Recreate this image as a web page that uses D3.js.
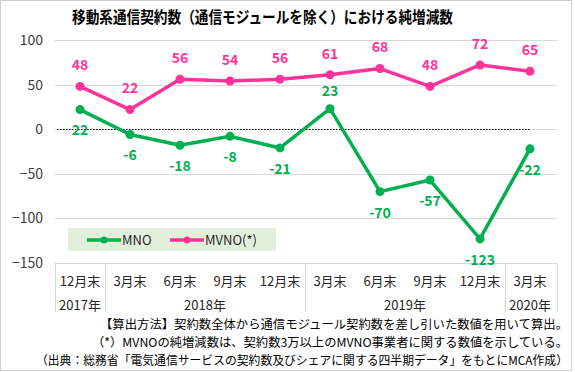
<!DOCTYPE html>
<html>
<head>
<meta charset="utf-8">
<script src="https://cdn.jsdelivr.net/npm/d3@7"></script>
<style>
  body { margin: 0; background: #fff; }
  text { font-family: "Noto Sans CJK JP", sans-serif; }
</style>
</head>
<body>
<svg id="chart" width="575" height="372"></svg>
<script>
// data
const months = ["12月末", "3月末", "6月末", "9月末", "12月末", "3月末", "6月末", "9月末", "12月末", "3月末"];
const years = [
  { label: "2017年", from: 0, to: 0 },
  { label: "2018年", from: 1, to: 4 },
  { label: "2019年", from: 5, to: 8 },
  { label: "2020年", from: 9, to: 9 }
];
const mno = [22, -6, -18, -8, -21, 23, -70, -57, -123, -22];
const mvno = [48, 22, 56, 54, 56, 61, 68, 48, 72, 65];
const yTicks = [100, 50, 0, -50, -100, -150];
const title = "移動系通信契約数（通信モジュールを除く）における純増減数";
const notes = [
  "【算出方法】契約数全体から通信モジュール契約数を差し引いた数値を用いて算出。",
  "（*）MVNOの純増減数は、契約数3万以上のMVNO事業者に関する数値を示している。",
  "（出典：総務省「電気通信サービスの契約数及びシェアに関する四半期データ」をもとにMCA作成）"
];
const noteWidths = [468, 476, 532];

const GREEN = "#00b050", PINK = "#ff3399";
const svg = d3.select("#chart");

svg.append("rect")
  .attr("x", 0.5).attr("y", 0.5)
  .attr("width", 571).attr("height", 370)
  .attr("fill", "#fff").attr("stroke", "#d0d0d0");

svg.append("text")
  .attr("x", 72).attr("y", 23)
  .attr("font-size", 16).attr("font-weight", "bold")
  .attr("fill", "#000")
  .attr("textLength", 381).attr("lengthAdjust", "spacingAndGlyphs")
  .text(title);

const x = d3.scaleBand().domain(d3.range(months.length)).range([55, 555]);
const y = d3.scaleLinear().domain([-150, 100]).range([263, 40]);
const cx = i => x(i) + x.bandwidth() / 2;

// grid + y labels
svg.append("g")
  .selectAll("line")
  .data(yTicks)
  .join("line")
  .attr("x1", 55).attr("x2", 557)
  .attr("y1", d => Math.round(y(d)) + 0.5).attr("y2", d => Math.round(y(d)) + 0.5)
  .attr("stroke", "#d9d9d9");

svg.append("g")
  .selectAll("text")
  .data(yTicks)
  .join("text")
  .attr("x", 43).attr("y", d => y(d))
  .attr("dy", "0.35em")
  .attr("text-anchor", "end")
  .attr("font-size", 14)
  .attr("fill", "#404040")
  .text(d => d < 0 ? "\u2212" + Math.abs(d) : d);

// dotted zero line
svg.append("line")
  .attr("x1", 57).attr("x2", cx(9))
  .attr("y1", Math.round(y(0)) + 0.5).attr("y2", Math.round(y(0)) + 0.5)
  .attr("stroke", "#000").attr("stroke-width", 1.2)
  .attr("stroke-dasharray", "1.5,1.5");

// category table
const tableTop = Math.round(y(-150)) + 0.5, tableBottom = 312;
const bounds = [0].concat(years.map(d => d.to + 1));
svg.append("g")
  .selectAll("line")
  .data(bounds)
  .join("line")
  .attr("x1", d => (d === months.length ? 557 : x(d)) + 0.5)
  .attr("x2", d => (d === months.length ? 557 : x(d)) + 0.5)
  .attr("y1", tableTop).attr("y2", tableBottom)
  .attr("stroke", "#d9d9d9");

svg.append("g")
  .selectAll("text")
  .data(months)
  .join("text")
  .attr("x", (d, i) => cx(i)).attr("y", 281)
  .attr("dy", "0.35em")
  .attr("text-anchor", "middle")
  .attr("font-size", 13)
  .attr("fill", "#262626")
  .text(d => d);

svg.append("g")
  .selectAll("text")
  .data(years)
  .join("text")
  .attr("x", d => (x(d.from) + x(d.to) + x.bandwidth()) / 2).attr("y", 305)
  .attr("dy", "0.35em")
  .attr("text-anchor", "middle")
  .attr("font-size", 13)
  .attr("fill", "#262626")
  .text(d => d.label);

// series
const line = d3.line().x((d, i) => cx(i)).y(d => y(d));
const series = [
  { name: "MNO", values: mno, color: GREEN },
  { name: "MVNO(*)", values: mvno, color: PINK }
];
series.forEach(s => {
  svg.append("path")
    .attr("d", line(s.values))
    .attr("fill", "none")
    .attr("stroke", s.color)
    .attr("stroke-width", 3.5)
    .attr("stroke-linejoin", "round");
  svg.append("g")
    .selectAll("circle")
    .data(s.values)
    .join("circle")
    .attr("cx", (d, i) => cx(i)).attr("cy", d => y(d))
    .attr("r", 4.5)
    .attr("fill", s.color);
});

// data labels
svg.append("g")
  .selectAll("text")
  .data(mvno)
  .join("text")
  .attr("x", (d, i) => cx(i)).attr("y", d => y(d) - 21)
  .attr("dy", "0.35em")
  .attr("text-anchor", "middle")
  .attr("font-size", 14).attr("font-weight", "bold")
  .attr("fill", PINK)
  .text(d => d);

svg.append("g")
  .selectAll("text")
  .data(mno)
  .join("text")
  .attr("x", (d, i) => cx(i))
  .attr("y", (d, i) => i === 5 ? y(d) - 18 : y(d) + 21)
  .attr("dy", "0.35em")
  .attr("text-anchor", "middle")
  .attr("font-size", 14).attr("font-weight", "bold")
  .attr("fill", GREEN)
  .text(d => d);

// legend
const legend = svg.append("g");
legend.append("rect")
  .attr("x", 68).attr("y", 228)
  .attr("width", 208).attr("height", 23)
  .attr("fill", "#e2efda");
const legendX = [87, 170];
series.forEach((s, i) => {
  const g = legend.append("g").attr("transform", `translate(${legendX[i]},240)`);
  g.append("line").attr("x1", 0).attr("x2", 34)
    .attr("stroke", s.color).attr("stroke-width", 3.5);
  g.append("circle").attr("cx", 17).attr("r", 3.5).attr("fill", s.color);
  g.append("text").attr("x", 35).attr("dy", "0.35em")
    .attr("font-size", 13).attr("fill", "#262626")
    .text(s.name);
});

// notes
svg.append("g")
  .selectAll("text")
  .data(notes)
  .join("text")
  .attr("x", (d, i) => 568 - noteWidths[i]).attr("y", (d, i) => 325 + i * 18)
  .attr("dy", "0.35em")
  .attr("font-size", 12)
  .attr("fill", "#000")
  .attr("textLength", (d, i) => noteWidths[i])
  .attr("lengthAdjust", "spacingAndGlyphs")
  .text(d => d);
</script>
</body>
</html>
